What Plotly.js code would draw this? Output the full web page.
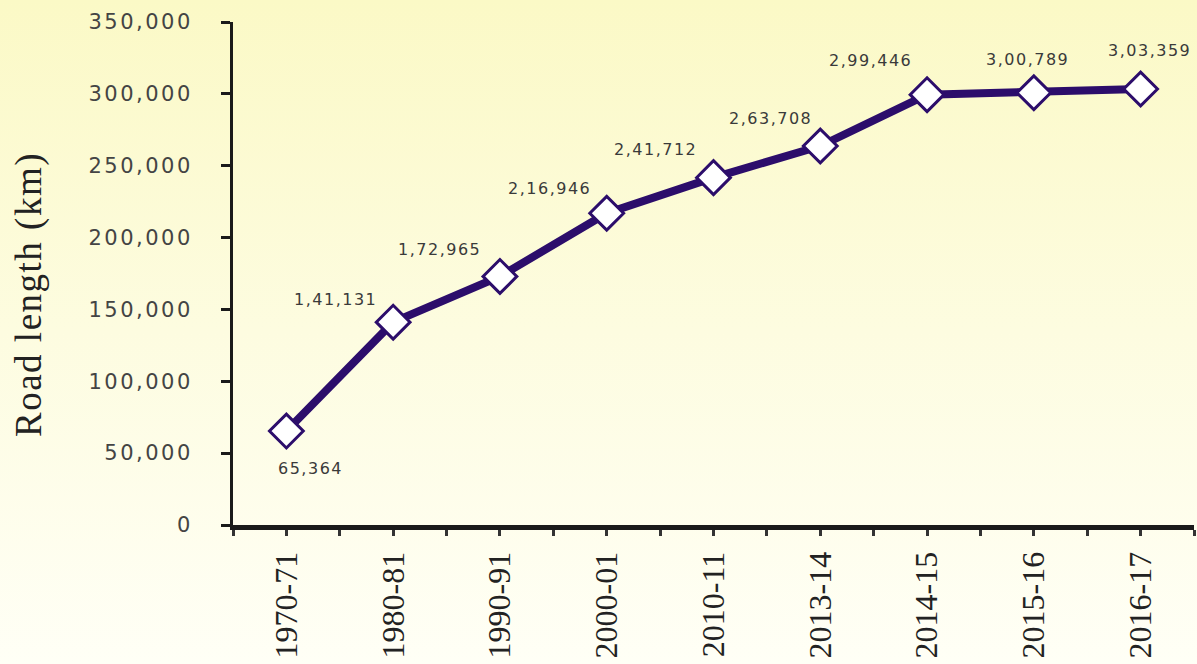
<!DOCTYPE html>
<html>
<head>
<meta charset="utf-8">
<script src="https://cdn.plot.ly/plotly-3.0.1.min.js"></script>
<style>
  html, body { margin:0; padding:0; }
  body { width:1197px; height:664px; background: linear-gradient(to bottom, #fbf9c6 0%, #fdfce0 50%, #fffff6 100%); overflow:hidden; }
  #chart { width:1197px; height:664px; }
  .ytick text { letter-spacing: 2.5px; }
  .annotation-text { letter-spacing: 1.5px; }
</style>
</head>
<body>
<div id="chart"></div>
<script>
// Data
const categories = ["1970-71","1980-81","1990-91","2000-01","2010-11","2013-14","2014-15","2015-16","2016-17"];
const roadLength = [65364, 141131, 172965, 216946, 241712, 263708, 299446, 300789, 303359];
const yTicks = [0, 50000, 100000, 150000, 200000, 250000, 300000, 350000];
const yTitle = "Road length (km)";

// label placement (pixels relative to each point)
const labelDx = [24, -58, -60, -57, -58, -50, -57, -6, 9];
const labelDy = [-37, 23, 27, 25, 28, 28, 34, 33, 39];

function indianFormat(n) {
  const s = String(Math.round(n));
  if (s.length <= 3) return s;
  const last3 = s.slice(-3);
  let rest = s.slice(0, -3);
  const parts = [];
  while (rest.length > 2) { parts.unshift(rest.slice(-2)); rest = rest.slice(0, -2); }
  if (rest.length) parts.unshift(rest);
  return parts.join(",") + "," + last3;
}

const xIdx = categories.map((c, i) => i);
const purple = "#2c0d6b";

const trace = {
  x: xIdx,
  y: roadLength,
  type: "scatter",
  mode: "lines+markers",
  line: { color: purple, width: 8 },
  marker: { symbol: "diamond", size: 26, color: "#ffffff", line: { color: purple, width: 3 } },
  hoverinfo: "skip",
  cliponaxis: false
};

const annotations = roadLength.map((v, i) => ({
  x: i, y: v, xref: "x", yref: "y",
  text: indianFormat(v),
  showarrow: false,
  xshift: labelDx[i], yshift: labelDy[i],
  font: { family: "DejaVu Sans", size: 16, color: "#3a3a3a" }
}));

// y-axis title drawn as rotated text, placed like the reference
annotations.push({
  xref: "paper", yref: "paper",
  x: (29 - 233) / 961, y: (525 - 295) / 503,
  xanchor: "center", yanchor: "middle",
  text: yTitle, textangle: -90, showarrow: false,
  font: { family: "Liberation Serif", size: 37, color: "#222222" }
});

const layout = {
  width: 1197, height: 664,
  margin: { l: 233, r: 3, t: 22, b: 139 },
  paper_bgcolor: "rgba(0,0,0,0)",
  plot_bgcolor: "rgba(0,0,0,0)",
  showlegend: false,
  xaxis: {
    range: [-0.5, 8.5],
    tickmode: "array",
    tickvals: xIdx,
    ticktext: categories,
    tickangle: -90,
    tickfont: { family: "Liberation Serif", size: 32, color: "#222222" },
    showgrid: false, zeroline: false,
    showline: true, linecolor: "#1a1a1a", linewidth: 5,
    ticks: "outside", ticklen: 6, tickwidth: 3, tickcolor: "#333333",
    ticklabelstandoff: 3,
    minor: { tick0: -0.5, dtick: 0.5, ticks: "outside", ticklen: 6, tickwidth: 3, tickcolor: "#333333", showgrid: false },
    fixedrange: true
  },
  yaxis: {
    range: [0, 350000],
    tickmode: "array",
    tickvals: yTicks,
    tickformat: ",d",
    tickfont: { family: "DejaVu Sans", size: 21, color: "#444444" },
    showgrid: false, zeroline: false,
    showline: true, linecolor: "#1a1a1a", linewidth: 3,
    ticks: "outside", ticklen: 9, tickwidth: 3, tickcolor: "#1a1a1a",
    ticklabelstandoff: 24,
    fixedrange: true
  },
  annotations: annotations
};

Plotly.newPlot("chart", [trace], layout, { displayModeBar: false, staticPlot: true });
</script>
</body>
</html>
